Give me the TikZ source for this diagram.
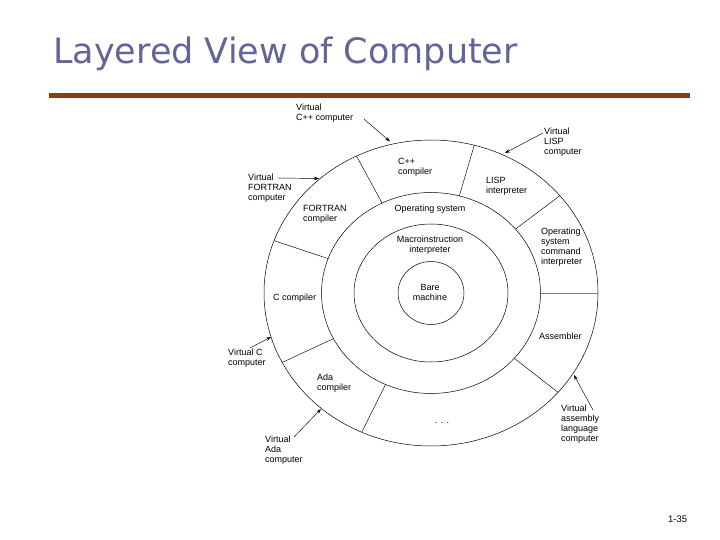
\documentclass[tikz,border=0pt]{standalone}
\usepackage{fontspec}
\setmainfont{Liberation Sans}
\newfontfamily\titlefont{DejaVu Sans}
\usetikzlibrary{calc,arrows.meta}
\definecolor{titleblue}{RGB}{100,100,150}
\definecolor{barbrown}{RGB}{139,61,19}
\tikzset{
  lbl/.style={inner sep=0pt,font=\fontsize{9}{10}\selectfont,align=left,anchor=west},
  clbl/.style={inner sep=0pt,font=\fontsize{9}{10}\selectfont,align=center},
  ring/.style={line width=0.5pt},
  divider/.style={line width=0.45pt},
  pointer/.style={line width=0.45pt,-{Stealth[length=5pt,width=3.5pt]}}
}
\begin{document}
\begin{tikzpicture}[x=1pt,y=-1pt]
\useasboundingbox (0,0) rectangle (720,540);
% title and bar
\node[inner sep=0pt,anchor=base west,text=titleblue,font=\titlefont\fontsize{35}{40}\selectfont] (title) at (53,64) {Layered View of Computer};
\fill[barbrown] (49,93) rectangle (690,98.5);
\node[inner sep=0pt,anchor=west,font=\fontsize{9.5}{10}\selectfont] (pagenum) at (668,519) {1-35};
% rings
\coordinate (c) at (431,293);
\draw[ring] (c) ellipse [x radius=167pt, y radius=153pt];
\draw[ring] (c) ellipse [x radius=109.5pt, y radius=100.5pt];
\draw[ring] (c) ellipse [x radius=77pt, y radius=69pt];
\draw[ring] (c) ellipse [x radius=33pt, y radius=31.5pt];
% dividers of the outer ring
\foreach \a/\n in {243.5/d1,285/d2,320.5/d3,40.5/d5,114.5/d6,153/d7,200/d8}{
  \coordinate (\n i) at ($(c)+(\a:109.5 and 100.5)$);
  \coordinate (\n o) at ($(c)+(\a:167 and 153)$);
  \draw[divider] (\n i) -- (\n o);
}
\coordinate (d4i) at ($(c)+(0:109.5 and 100.5)$);
\coordinate (d4o) at ($(c)+(0:167 and 153)$);
\draw[divider,gray] (d4i) -- (d4o);
% ring labels
\node[lbl] (cpp) at (398,167) {C++\\compiler};
\node[lbl] (lisp) at (486,186) {LISP\\interpreter};
\node[lbl] (fortran) at (303,214) {FORTRAN\\compiler};
\node[clbl] (os) at (430,209.5) {Operating system};
\node[clbl] (macro) at (430,245) {Macroinstruction\\interpreter};
\node[clbl] (bare) at (430,292) {Bare\\machine};
\node[lbl] (oscmd) at (541,247) {Operating\\system\\command\\interpreter};
\node[lbl] (ccomp) at (273,298) {C compiler};
\node[lbl] (asm) at (539,336) {Assembler};
\node[lbl] (ada) at (317,383) {Ada\\compiler};
\node[inner sep=0pt,anchor=base,font=\fontsize{9}{10}\selectfont] (dots) at (442,423) {. . .};
% outside labels
\node[lbl] (vcpp) at (296,113) {Virtual\\C++ computer};
\node[lbl] (vlisp) at (544,142) {Virtual\\LISP\\computer};
\node[lbl] (vfortran) at (248,188.5) {Virtual\\FORTRAN\\computer};
\node[lbl] (vc) at (228,358) {Virtual C\\computer};
\node[lbl] (vada) at (265,450) {Virtual\\Ada\\computer};
\node[lbl] (vasm) at (561,424) {Virtual\\assembly\\language\\computer};
% pointers
\coordinate (t1) at (364,119); \coordinate (h1) at (390,141.5);
\coordinate (t2) at (543,133); \coordinate (h2) at (505,153);
\coordinate (t3) at (277,178); \coordinate (h3) at (319,178.5);
\coordinate (t4) at (250,348); \coordinate (h4) at (271,337);
\coordinate (t5) at (294,437); \coordinate (h5) at (321,409);
\coordinate (t6) at (593,410); \coordinate (h6) at (574,375);
\foreach \i in {1,...,6}{\draw[pointer] (t\i) -- (h\i);}
\end{tikzpicture}
\end{document}
